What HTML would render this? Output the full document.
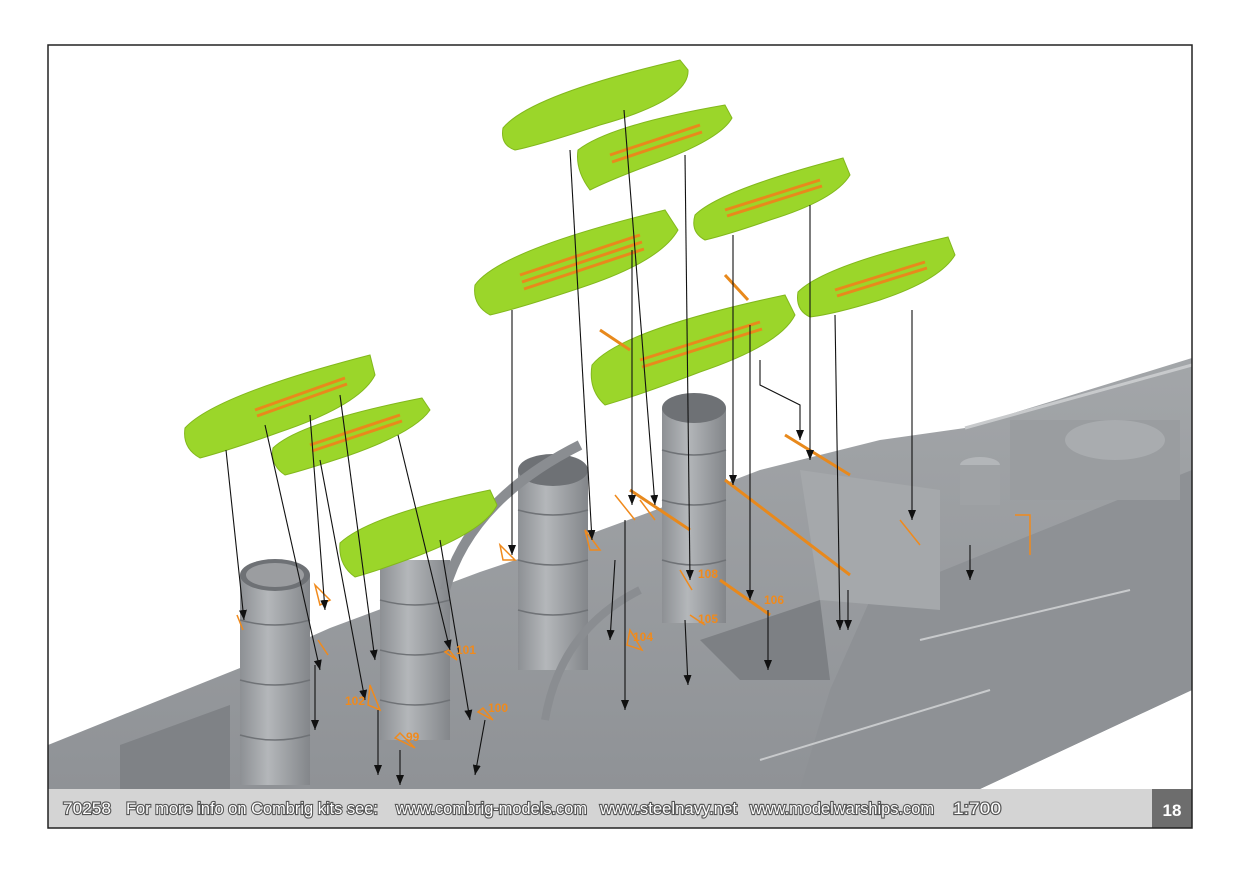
<!DOCTYPE html>
<html><head><meta charset="utf-8"><style>
html,body{margin:0;padding:0;background:#fff;}
svg{display:block;font-family:"Liberation Sans",sans-serif;}
</style></head><body>
<svg width="1241" height="875" viewBox="0 0 1241 875" xmlns="http://www.w3.org/2000/svg">
<defs>
<marker id="ar" markerWidth="10" markerHeight="8" refX="10" refY="4" orient="auto" markerUnits="userSpaceOnUse">
<path d="M0,0 L10,4 L0,8 Z" fill="#111"/></marker>
<linearGradient id="fun" x1="0" x2="1"><stop offset="0" stop-color="#8d9094"/><stop offset="0.4" stop-color="#b4b7ba"/><stop offset="1" stop-color="#83868a"/></linearGradient>
<linearGradient id="hull" x1="0" y1="0" x2="0" y2="1"><stop offset="0" stop-color="#a3a6a9"/><stop offset="1" stop-color="#8f9296"/></linearGradient>
</defs>
<rect x="0" y="0" width="1241" height="875" fill="#fff"/>
<!-- hull -->
<polygon points="48,745 130,712 240,668 330,628 480,572 560,545 650,512 760,470 880,440 965,428 1192,358 1192,690 980,789 48,789" fill="url(#hull)"/>
<polygon points="870,600 1192,470 1192,690 980,789 800,789 830,690" fill="#8e9195"/>
<polygon points="700,640 820,600 830,680 740,680" fill="#7d8084"/>
<polygon points="120,745 230,705 230,789 120,789" fill="#7f8286"/>
<polyline points="965,428 1192,365" stroke="#c8cacc" stroke-width="3" fill="none"/>
<polyline points="920,640 1130,590" stroke="#c8cacc" stroke-width="2" fill="none"/>
<polyline points="760,760 990,690" stroke="#c8cacc" stroke-width="2" fill="none"/>
<rect x="1010" y="420" width="170" height="80" fill="#9a9da0"/>
<ellipse cx="1115" cy="440" rx="50" ry="20" fill="#a9acaf"/>
<ellipse cx="980" cy="465" rx="20" ry="8" fill="#b3b6b9"/>
<rect x="960" y="465" width="40" height="40" fill="#9fa2a5"/>
<polygon points="800,470 940,490 940,610 820,600" fill="#a5a8ab"/>
<!-- funnels -->
<g>
<rect x="240" y="575" width="70" height="210" fill="url(#fun)"/><ellipse cx="275" cy="575" rx="35" ry="16" fill="#6e7175"/><ellipse cx="275" cy="575" rx="29" ry="12" fill="#c8cacc" opacity=".5"/>
<rect x="380" y="560" width="70" height="180" fill="url(#fun)"/>
<rect x="518" y="470" width="70" height="200" fill="url(#fun)"/><ellipse cx="553" cy="470" rx="35" ry="16" fill="#6e7175"/>
<rect x="662" y="408" width="64" height="215" fill="url(#fun)"/><ellipse cx="694" cy="408" rx="32" ry="15" fill="#6e7175"/>
</g>
<g stroke="#6f7276" stroke-width="1.5" fill="none">
<path d="M240,620 q35,10 70,0 M240,680 q35,10 70,0 M240,735 q35,10 70,0"/>
<path d="M380,600 q35,10 70,0 M380,650 q35,10 70,0 M380,700 q35,10 70,0"/>
<path d="M518,510 q35,10 70,0 M518,560 q35,10 70,0 M518,610 q35,10 70,0"/>
<path d="M662,450 q32,10 64,0 M662,500 q32,10 64,0 M662,560 q32,10 64,0"/>
<path d="M445,590 Q470,500 580,445" stroke="#8a8d91" stroke-width="10"/>
<path d="M545,720 Q560,630 640,590" stroke="#8a8d91" stroke-width="8"/>
</g>
<!-- boats -->
<g fill="#9bd62a" stroke="#82b81c" stroke-width="1">
<path d="M503,128 Q530,95 680,60 L688,70 Q690,100 600,125 Q540,145 515,150 Q500,145 503,128 Z"/>
<path d="M578,150 Q610,125 725,105 L732,118 Q720,140 650,165 Q610,180 590,190 Q575,170 578,150 Z"/>
<path d="M475,285 Q500,250 665,210 L678,230 Q660,262 580,288 Q520,308 490,315 Q472,305 475,285 Z"/>
<path d="M695,215 Q720,190 843,158 L850,175 Q835,200 770,220 Q730,234 705,240 Q690,232 695,215 Z"/>
<path d="M592,365 Q620,330 785,295 L795,315 Q780,345 700,372 Q640,395 605,405 Q588,390 592,365 Z"/>
<path d="M798,292 Q825,265 948,237 L955,255 Q940,280 880,300 Q835,314 810,317 Q795,310 798,292 Z"/>
<path d="M185,428 Q215,395 370,355 L375,375 Q360,405 280,432 Q230,450 200,458 Q182,448 185,428 Z"/>
<path d="M273,448 Q300,422 422,398 L430,410 Q415,432 350,455 Q305,470 285,475 Q270,465 273,448 Z"/>
<path d="M340,543 Q370,515 490,490 L497,505 Q485,530 420,555 Q380,570 355,577 Q338,565 340,543 Z"/>
</g>
<g stroke="#e8891c" stroke-width="3">
<path d="M610,155 L700,125 M612,162 L702,132"/>
<path d="M725,210 L820,180 M727,216 L822,186"/>
<path d="M520,275 L640,235 M522,282 L642,242 M524,289 L644,249"/>
<path d="M640,360 L760,322 M642,367 L762,329"/>
<path d="M835,290 L925,262 M837,296 L927,268"/>
<path d="M255,410 L345,378 M257,416 L347,384"/>
<path d="M310,445 L400,415 M312,451 L402,421"/>
<path d="M600,330 L630,350 M725,275 L748,300 M785,435 L850,475 M725,480 L850,575 M720,580 L770,615 M630,490 L690,530"/>
</g>
<g stroke="#f08a1c" stroke-width="1.5" fill="none">
<path d="M315,585 l15,15 l-10,5 z M370,685 l10,25 l-12,-5 z M395,738 l20,10 l-15,-15 z M478,712 l15,8 l-10,-12 z M445,652 l12,8 l-8,-10 z M585,530 l15,20 l-10,0 z M500,545 l15,15 l-12,0 z M615,495 l20,25 M640,500 l15,20 M630,630 l12,20 l-15,-5z M680,570 l12,20 M690,615 l15,10 M318,640 l10,15 M237,615 l6,15 M900,520 l20,25 M1015,515 l15,0 l0,40"/>
</g>
<!-- arrows -->
<g stroke="#111" stroke-width="1.1" fill="none" marker-end="url(#ar)">
<line x1="226" y1="450" x2="244" y2="620"/>
<line x1="265" y1="425" x2="320" y2="670"/>
<line x1="310" y1="415" x2="325" y2="610"/>
<line x1="340" y1="395" x2="375" y2="660"/>
<line x1="320" y1="460" x2="365" y2="700"/>
<line x1="398" y1="435" x2="450" y2="650"/>
<line x1="440" y1="540" x2="470" y2="720"/>
<line x1="512" y1="310" x2="512" y2="555"/>
<line x1="570" y1="150" x2="592" y2="540"/>
<line x1="624" y1="110" x2="655" y2="505"/>
<line x1="685" y1="155" x2="690" y2="580"/>
<line x1="632" y1="250" x2="632" y2="505"/>
<line x1="733" y1="235" x2="733" y2="485"/>
<line x1="810" y1="205" x2="810" y2="460"/>
<line x1="750" y1="325" x2="750" y2="600"/>
<line x1="912" y1="310" x2="912" y2="520"/>
<line x1="835" y1="315" x2="840" y2="630"/>
<line x1="378" y1="710" x2="378" y2="775"/>
<line x1="315" y1="665" x2="315" y2="730"/>
<line x1="400" y1="750" x2="400" y2="785"/>
<line x1="485" y1="720" x2="475" y2="775"/>
<line x1="625" y1="520" x2="625" y2="710"/>
<line x1="615" y1="560" x2="610" y2="640"/>
<line x1="685" y1="620" x2="688" y2="685"/>
<line x1="768" y1="610" x2="768" y2="670"/>
<line x1="848" y1="590" x2="848" y2="630"/>
<line x1="970" y1="545" x2="970" y2="580"/>
<polyline points="760,360 760,385 800,405 800,440"/>
</g>
<!-- labels -->
<g fill="#f08a1c" font-weight="bold" font-size="12" font-family="'Liberation Sans Narrow','Liberation Sans',sans-serif">
<text x="406" y="741">99</text><text x="488" y="712">100</text><text x="456" y="654">101</text>
<text x="345" y="705">102</text><text x="633" y="641">104</text><text x="698" y="623">105</text>
<text x="764" y="604">106</text><text x="698" y="578">108</text>
</g>
<!-- footer -->
<rect x="48" y="789" width="1144" height="39" fill="#d4d4d4"/>
<rect x="1152" y="789" width="40" height="39" fill="#6d6d6d"/>
<text x="1172" y="816" fill="#fff" font-size="17" font-weight="bold" text-anchor="middle">18</text>
<g fill="#fff" stroke="#555" stroke-width="2.2" paint-order="stroke" font-size="17" font-family="'Liberation Sans Narrow','Liberation Sans',sans-serif" lengthAdjust="spacingAndGlyphs">
<text x="63" y="814" textLength="48" lengthAdjust="spacingAndGlyphs">70258</text>
<text x="126" y="814" textLength="252" lengthAdjust="spacingAndGlyphs">For more info on Combrig kits see:</text>
<text x="396" y="814" textLength="191" lengthAdjust="spacingAndGlyphs">www.combrig-models.com</text>
<text x="600" y="814" textLength="137" lengthAdjust="spacingAndGlyphs">www.steelnavy.net</text>
<text x="750" y="814" textLength="184" lengthAdjust="spacingAndGlyphs">www.modelwarships.com</text>
<text x="953" y="814" textLength="48" lengthAdjust="spacingAndGlyphs">1:700</text>
</g>
<rect x="48" y="45" width="1144" height="783" fill="none" stroke="#222" stroke-width="1.5"/>
</svg>
</body></html>
